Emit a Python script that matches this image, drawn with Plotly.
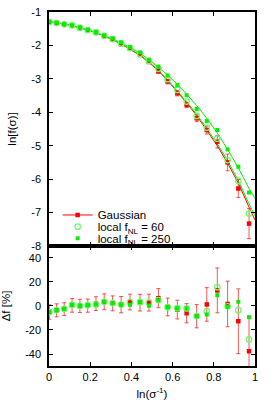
import plotly.graph_objects as go
from plotly.subplots import make_subplots

# x positions: ln(sigma^-1)
x = [0.0015, 0.037, 0.074, 0.112, 0.150, 0.188, 0.228, 0.268, 0.309, 0.350, 0.393, 0.442,
     0.485, 0.531, 0.576, 0.623, 0.668, 0.717, 0.766, 0.817, 0.867, 0.919, 0.971]

# theory curves (upper panel)
x_line = x + [1.0]
gauss_line = [-1.29, -1.32, -1.36, -1.41, -1.47, -1.54, -1.62, -1.72, -1.83, -1.96, -2.11, -2.30,
              -2.51, -2.76, -3.05, -3.38, -3.72, -4.10, -4.53, -5.00, -5.52, -6.12, -6.84, -7.22]
fnl60_line = [-1.285, -1.315, -1.355, -1.405, -1.465, -1.535, -1.615, -1.715, -1.82, -1.95, -2.10, -2.28,
              -2.49, -2.74, -3.03, -3.35, -3.68, -4.06, -4.48, -4.94, -5.45, -6.04, -6.74, -7.10]
fnl250_line = [-1.285, -1.315, -1.355, -1.40, -1.46, -1.53, -1.61, -1.70, -1.80, -1.92, -2.06, -2.23,
               -2.43, -2.65, -2.89, -3.16, -3.46, -3.80, -4.18, -4.62, -5.11, -5.66, -6.28, -6.58]

# measured ln f (upper panel)
gauss_top = [-1.30, -1.33, -1.38, -1.41, -1.48, -1.55, -1.62, -1.72, -1.83, -1.96, -2.10, -2.28,
             -2.49, -2.77, -3.08, -3.43, -3.78, -4.18, -4.53, -4.88, -5.50, -6.28, -7.33]
gauss_top_err = [0.04, 0.04, 0.04, 0.04, 0.04, 0.04, 0.05, 0.05, 0.05, 0.05, 0.05, 0.06,
                 0.06, 0.07, 0.07, 0.08, 0.08, 0.10, 0.12, 0.19, 0.25, 0.27, 0.45]
fnl60_top = [-1.30, -1.33, -1.37, -1.40, -1.47, -1.54, -1.61, -1.71, -1.81, -1.94, -2.08, -2.25,
             -2.46, -2.70, -3.01, -3.33, -3.68, -4.11, -4.46, -4.79, -5.43, -6.05, -7.03]
fnl250_top = [-1.29, -1.32, -1.36, -1.40, -1.46, -1.53, -1.60, -1.70, -1.79, -1.91, -2.05, -2.21,
              -2.43, -2.63, -2.90, -3.18, -3.49, -3.90, -4.26, -4.53, -5.11, -5.63, -6.40]

# relative deviations in percent (lower panel)
gauss_df = [-5.0, -3.6, -2.6, 0.5, 0.1, 0.3, 2.0, 3.5, 2.2, 1.1, 3.3, 2.8,
            2.8, 6.5, -0.8, -3.0, -6.0, -8.5, 1.3, 13.0, 1.7, -12.7, -37.7]
gauss_df_err = [6.0, 5.4, 5.3, 5.7, 5.5, 5.5, 5.7, 6.6, 6.2, 6.8, 6.5, 7.0,
                7.0, 8.0, 7.4, 7.8, 8.0, 9.7, 14.0, 18.7, 19.0, 27.0, 28.0]
fnl60_df = [-5.0, -3.5, -2.4, 1.0, 0.2, 0.7, 1.2, 3.5, 2.4, 1.2, 3.2, 3.2,
            3.0, 5.0, -1.0, -1.8, -2.0, -8.5, -4.3, 15.7, -0.2, -3.5, -27.9]
fnl250_df = [-4.8, -3.5, -2.4, 1.0, 0.2, 0.7, 1.2, 3.5, 2.4, 1.2, 1.0, 3.2,
             0.2, 4.8, -1.0, -1.8, -2.0, -8.5, -7.1, 9.0, -0.7, 3.5, -9.3]
band = [5, -5]

x_ticks = [0, 0.2, 0.4, 0.6, 0.8, 1.0]
x_ticktext = ["0", "0.2", "0.4", "0.6", "0.8", "1"]
top_ticks = [-1, -2, -3, -4, -5, -6, -7, -8]
top_ticktext = ["-1", "-2", "-3", "-4", "-5", "-6", "-7", "-8"]
bot_ticks = [-40, -20, 0, 20, 40]
bot_ticktext = ["-40", "-20", "0", "20", "40"]

RED = "#ff0000"
ERR = "rgba(240,30,30,0.75)"
GREEN = "#00f000"
LGREEN = "#66ff66"
FONT = "Liberation Sans, Arial, sans-serif"

fig = make_subplots(rows=2, cols=1, shared_xaxes=False, vertical_spacing=0,
                    row_heights=[0.661, 0.339])

# theory lines
fig.add_trace(go.Scatter(x=x_line, y=gauss_line, mode="lines", line=dict(color=RED, width=1),
                         showlegend=False, hoverinfo="skip"), row=1, col=1)
fig.add_trace(go.Scatter(x=x_line, y=fnl60_line, mode="lines", line=dict(color=GREEN, width=1),
                         showlegend=False, hoverinfo="skip"), row=1, col=1)
fig.add_trace(go.Scatter(x=x_line, y=fnl250_line, mode="lines", line=dict(color=GREEN, width=1),
                         showlegend=False, hoverinfo="skip"), row=1, col=1)

# data upper panel
fig.add_trace(go.Scatter(x=x, y=gauss_top, mode="markers",
                         marker=dict(symbol="square", size=4.5, color=RED),
                         error_y=dict(type="data", array=gauss_top_err, color=ERR, thickness=1, width=2),
                         showlegend=False), row=1, col=1)
fig.add_trace(go.Scatter(x=x, y=fnl60_top, mode="markers",
                         marker=dict(symbol="circle-open", size=5.5, color=LGREEN, line=dict(width=1.2)),
                         showlegend=False), row=1, col=1)
fig.add_trace(go.Scatter(x=x, y=fnl250_top, mode="markers",
                         marker=dict(symbol="square", size=4, color=GREEN),
                         showlegend=False), row=1, col=1)

# bands lower panel
for b in band:
    fig.add_hline(y=b, line=dict(color="#a0a0a0", width=2), row=2, col=1)

fig.add_trace(go.Scatter(x=x, y=gauss_df, mode="markers",
                         marker=dict(symbol="square", size=4.5, color=RED),
                         error_y=dict(type="data", array=gauss_df_err, color=ERR, thickness=1, width=2),
                         showlegend=False), row=2, col=1)
fig.add_trace(go.Scatter(x=x, y=fnl60_df, mode="markers",
                         marker=dict(symbol="circle-open", size=5.5, color=LGREEN, line=dict(width=1.2)),
                         showlegend=False), row=2, col=1)
fig.add_trace(go.Scatter(x=x, y=fnl250_df, mode="markers",
                         marker=dict(symbol="square", size=4, color=GREEN),
                         showlegend=False), row=2, col=1)

# legend entries (one legend each, to get tight spacing)
fig.add_trace(go.Scatter(x=[None], y=[None], mode="lines+markers", name="Gaussian",
                         line=dict(color=RED, width=1), legend="legend",
                         marker=dict(symbol="square", size=4.5, color=RED)), row=1, col=1)
fig.add_trace(go.Scatter(x=[None], y=[None], mode="markers", name="local f<sub>NL</sub> = 60",
                         legend="legend2",
                         marker=dict(symbol="circle-open", size=5.5, color=LGREEN, line=dict(width=1.2))),
              row=1, col=1)
fig.add_trace(go.Scatter(x=[None], y=[None], mode="markers", name="local f<sub>NL</sub> = 250",
                         legend="legend3",
                         marker=dict(symbol="square", size=4, color=GREEN)), row=1, col=1)

axis_common = dict(showline=True, linecolor="black", linewidth=1.5, mirror="allticks",
                   ticks="inside", ticklen=4, tickwidth=1, tickcolor="black", automargin=False,
                   showgrid=False, zeroline=False, tickfont=dict(family=FONT, size=11, color="black"))

fig.update_xaxes(range=[0, 1], tickvals=x_ticks, ticktext=x_ticktext, **axis_common)
fig.update_xaxes(showticklabels=False, row=1, col=1)
fig.update_xaxes(title=dict(text="ln(σ<sup>-1</sup>)", font=dict(family=FONT, size=11.5, color="black"),
                            standoff=8), row=2, col=1)
fig.update_yaxes(range=[-8, -1], tickvals=top_ticks, ticktext=top_ticktext, ticklabelstandoff=4,
                 title=dict(text="ln[f(σ)]", font=dict(family=FONT, size=11.5, color="black"), standoff=12),
                 row=1, col=1, **axis_common)
fig.update_yaxes(range=[-50, 50], tickvals=bot_ticks, ticktext=bot_ticktext, ticklabelstandoff=4,
                 title=dict(text="Δf [%]", font=dict(family=FONT, size=11.5, color="black"), standoff=12),
                 row=2, col=1, **axis_common)

leg_common = dict(x=0.042, xanchor="left", yanchor="middle", bgcolor="rgba(0,0,0,0)",
                  font=dict(family=FONT, size=11.5, color="black"), borderwidth=0)
fig.update_layout(
    width=275, height=413,
    margin=dict(l=49, r=20, t=12, b=47),
    paper_bgcolor="white", plot_bgcolor="white",
    font=dict(family=FONT, size=11, color="black"),
    legend=dict(y=0.4266, **leg_common),
    legend2=dict(y=0.3935, **leg_common),
    legend3=dict(y=0.3607, **leg_common),
)

fig.write_html("out.html", config={"displayModeBar": False},
               post_script="document.body.style.margin='0';document.body.style.overflow='hidden';")
